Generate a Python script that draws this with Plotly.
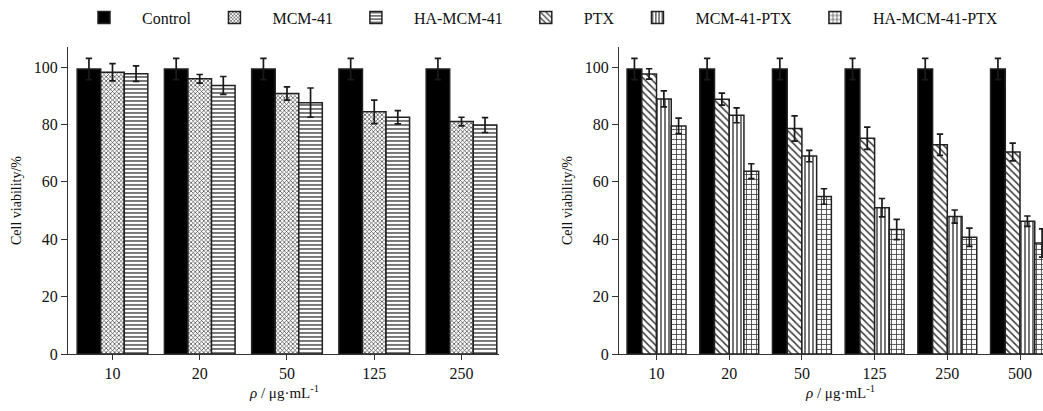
import plotly.graph_objects as go

# ---- data ----
conc_left = ["10", "20", "50", "125", "250"]
conc_right = ["10", "20", "50", "125", "250", "500"]

control_left = [99.3, 99.3, 99.3, 99.3, 99.3]
control_left_err = [3.7, 3.7, 3.7, 3.7, 3.7]
mcm41 = [98.2, 95.9, 90.8, 84.4, 81.0]
mcm41_err = [3.0, 1.5, 2.3, 4.1, 1.5]
ha_mcm41 = [97.7, 93.6, 87.6, 82.5, 79.8]
ha_mcm41_err = [2.7, 3.1, 5.1, 2.3, 2.6]

control_right = [99.3, 99.3, 99.3, 99.3, 99.3, 99.3]
control_right_err = [3.7, 3.7, 3.7, 3.7, 3.7, 3.7]
ptx = [97.6, 88.8, 78.6, 75.2, 72.9, 70.4]
ptx_err = [1.8, 2.1, 4.4, 3.9, 3.7, 3.1]
mcm41_ptx = [88.9, 83.2, 69.0, 51.0, 47.9, 46.3]
mcm41_ptx_err = [2.8, 2.6, 2.0, 3.2, 2.3, 1.8]
ha_mcm41_ptx = [79.5, 63.7, 54.9, 43.4, 40.7, 38.7]
ha_mcm41_ptx_err = [2.7, 2.6, 2.7, 3.5, 3.2, 4.9]

y_ticks = [0, 20, 40, 60, 80, 100]

# ---- styling ----
FONT = "Liberation Serif, Times New Roman, serif"
LINE = "#222222"
W, H = 1043, 411
FS = 16

def ebar(arr):
    return dict(type="data", array=arr, visible=True, color="#1a1a1a",
                thickness=1.7, width=3.2)

def patt(shape, size, sol):
    return dict(shape=shape, size=size, solidity=sol, fgcolor="#3a3a3a",
                bgcolor="white", fillmode="replace")

fig = go.Figure()

# left panel
fig.add_trace(go.Bar(x=conc_left, y=control_left, error_y=ebar(control_left_err),
                     name="Control", legendgroup="Control",
                     marker=dict(color="black", line=dict(color=LINE, width=1.5)),
                     xaxis="x", yaxis="y"))
fig.add_trace(go.Bar(x=conc_left, y=mcm41, error_y=ebar(mcm41_err), name="MCM-41",
                     marker=dict(color="white", pattern=patt("x", 3, 0.4),
                                 line=dict(color=LINE, width=1.5)),
                     xaxis="x", yaxis="y"))
fig.add_trace(go.Bar(x=conc_left, y=ha_mcm41, error_y=ebar(ha_mcm41_err), name="HA-MCM-41",
                     marker=dict(color="white", pattern=patt("-", 4, 0.35),
                                 line=dict(color=LINE, width=1.5)),
                     xaxis="x", yaxis="y"))

# right panel
fig.add_trace(go.Bar(x=conc_right, y=control_right, error_y=ebar(control_right_err),
                     name="Control", legendgroup="Control", showlegend=False,
                     marker=dict(color="black", line=dict(color=LINE, width=1.5)),
                     xaxis="x2", yaxis="y2"))
fig.add_trace(go.Bar(x=conc_right, y=ptx, error_y=ebar(ptx_err), name="PTX",
                     marker=dict(color="white", pattern=patt("\\", 5, 0.3),
                                 line=dict(color=LINE, width=1.5)),
                     xaxis="x2", yaxis="y2"))
fig.add_trace(go.Bar(x=conc_right, y=mcm41_ptx, error_y=ebar(mcm41_ptx_err), name="MCM-41-PTX",
                     marker=dict(color="white", pattern=patt("|", 4, 0.35),
                                 line=dict(color=LINE, width=1.5)),
                     xaxis="x2", yaxis="y2"))
fig.add_trace(go.Bar(x=conc_right, y=ha_mcm41_ptx, error_y=ebar(ha_mcm41_ptx_err), name="HA-MCM-41-PTX",
                     marker=dict(color="white", pattern=patt("+", 5, 0.3),
                                 line=dict(color=LINE, width=1.5)),
                     xaxis="x2", yaxis="y2"))

ydom = [(H - 362) / H, (H - 48) / H]

common_x = dict(type="category", showline=True, linecolor="#333", linewidth=1.3,
                ticks="outside", ticklen=5, tickcolor="#333", tickwidth=1.2,
                tickfont=dict(family=FONT, size=FS, color="#111"),
                showgrid=False, zeroline=False)
common_y = dict(range=[0, 107], tickvals=y_ticks, showline=True, linecolor="#333",
                linewidth=1.3, ticks="outside", ticklen=6, tickcolor="#333", tickwidth=1.2,
                tickfont=dict(family=FONT, size=FS, color="#111"),
                showgrid=False, zeroline=False)

ytitle = dict(text="Cell viability/%", font=dict(family=FONT, size=14), standoff=8)

fig.update_layout(
    width=W, height=H,
    margin=dict(l=0, r=0, t=0, b=0),
    paper_bgcolor="white", plot_bgcolor="white",
    barmode="group", bargap=0.19, bargroupgap=0,
    font=dict(family=FONT, size=FS, color="#111"),
    xaxis=dict(domain=[68 / W, 499 / W], range=[-0.51, 4.43], anchor="y", **common_x),
    yaxis=dict(domain=ydom, anchor="x", title=ytitle, **common_y),
    xaxis2=dict(domain=[619 / W, 1.0], range=[-0.516, 5.316], anchor="y2", **common_x),
    yaxis2=dict(domain=ydom, anchor="x2", title=ytitle, **common_y),
    legend=dict(orientation="h", x=66 / W, xanchor="left", y=1 - 18 / H, yanchor="middle",
                font=dict(family=FONT, size=FS, color="#111"), itemwidth=66,
                traceorder="normal", bgcolor="rgba(0,0,0,0)"),
    annotations=[
        dict(text="<i>ρ</i> / μg·mL<sup>-1</sup>", xref="paper", yref="paper",
             x=284 / W, y=1 - 401 / H, xanchor="center", yanchor="middle",
             showarrow=False, font=dict(family=FONT, size=15, color="#111")),
        dict(text="<i>ρ</i> / μg·mL<sup>-1</sup>", xref="paper", yref="paper",
             x=840 / W, y=1 - 401 / H, xanchor="center", yanchor="middle",
             showarrow=False, font=dict(family=FONT, size=15, color="#111")),
    ],
)

fig.write_html("out.html")
